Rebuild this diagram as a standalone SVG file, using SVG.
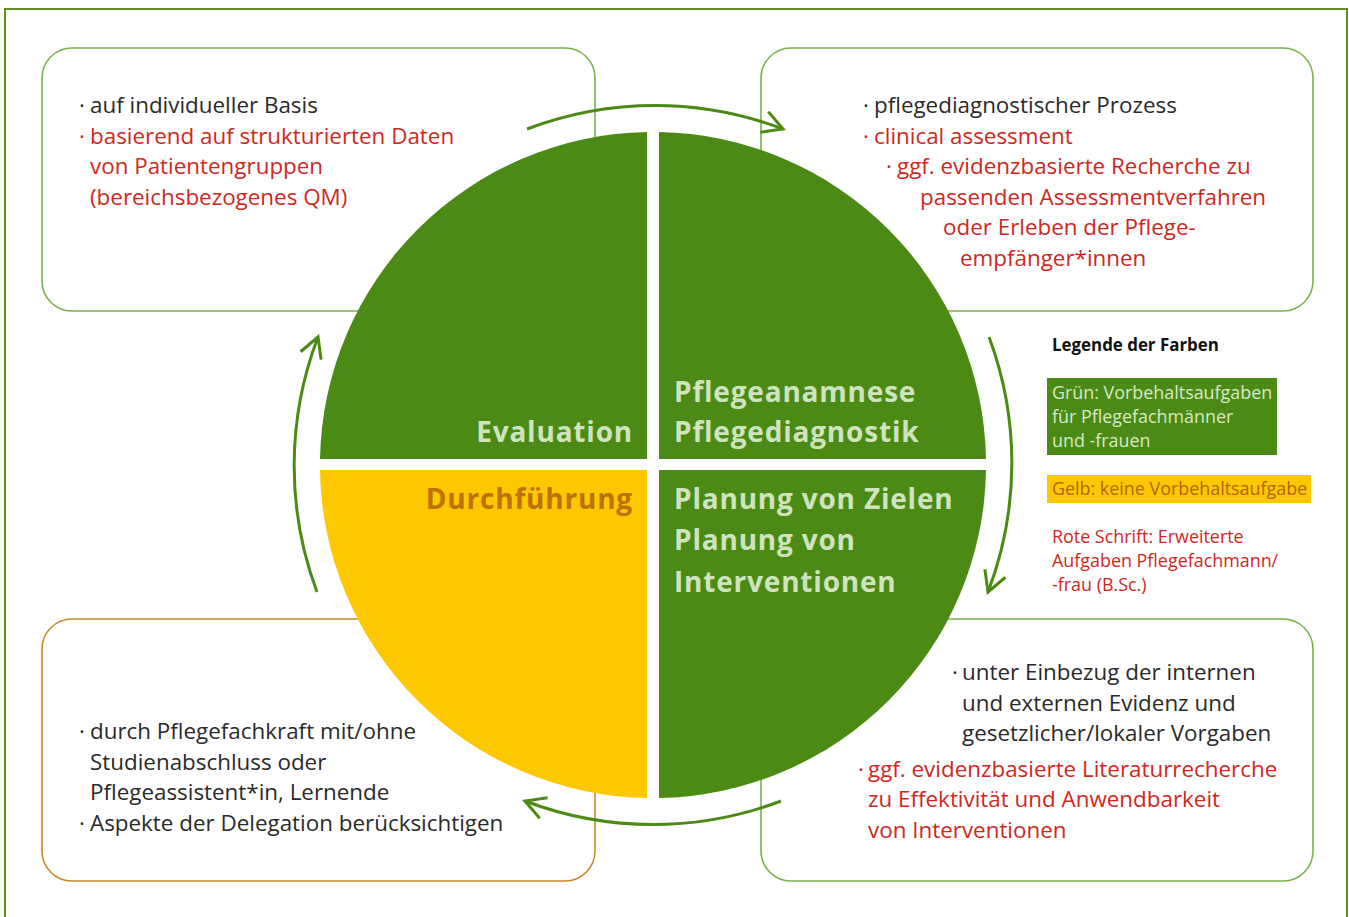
<svg xmlns="http://www.w3.org/2000/svg" width="1349" height="917" viewBox="0 0 1349 917">
<style>
.body{font-family:"Open Sans","Liberation Sans",sans-serif;font-size:22.4px;fill:#2a2a2a}
.red{fill:#d0271d}
.box{fill:none;stroke-width:1.6}
.bg{stroke:#79b24a}
.bo{stroke:#c98a2c}
.q{font-family:"Open Sans","Liberation Sans",sans-serif;font-weight:700;font-size:28px;letter-spacing:0.8px;fill:#cfe3bf}
.leg{font-family:"Open Sans","Liberation Sans",sans-serif;font-size:17.9px}
.arc{fill:none;stroke:#4b8b15;stroke-width:3;marker-end:url(#ah)}
</style>
<defs>
<marker id="ah" markerUnits="userSpaceOnUse" viewBox="-26 -16 30 32" markerWidth="30" markerHeight="32" refX="0" refY="0" orient="auto">
<path d="M-20,-11 L0,0 L-20,11" fill="none" stroke="#4b8b15" stroke-width="3"/>
</marker>
</defs>
<rect width="1349" height="917" fill="#ffffff"/>
<path d="M5,917 V9 H1347 V917" fill="none" stroke="#5f8f22" stroke-width="2"/>

<g id="box-evaluation">
<rect class="box bg" x="42" y="48" width="553" height="263" rx="30"/>
<text class="body" x="79" y="113">·</text><text class="body" x="90" y="113">auf individueller Basis</text>
<text class="body red" x="79" y="143.5">·</text><text class="body red" x="90" y="143.5">basierend auf strukturierten Daten</text>
<text class="body red" x="90" y="174">von Patientengruppen</text>
<text class="body red" x="90" y="204.5">(bereichsbezogenes QM)</text>
</g>

<g id="box-diagnostik">
<rect class="box bg" x="761" y="48" width="552" height="263" rx="30"/>
<text class="body" x="863" y="113">·</text><text class="body" x="874" y="113">pflegediagnostischer Prozess</text>
<text class="body red" x="863" y="143.5">·</text><text class="body red" x="874" y="143.5">clinical assessment</text>
<text class="body red" x="886" y="174">·</text><text class="body red" x="897" y="174">ggf. evidenzbasierte Recherche zu</text>
<text class="body red" x="920" y="204.5">passenden Assessmentverfahren</text>
<text class="body red" x="943" y="235">oder Erleben der Pflege-</text>
<text class="body red" x="960" y="265.5">empfänger*innen</text>
</g>

<g id="box-durchfuehrung">
<rect class="box bo" x="42" y="619" width="553" height="262" rx="30"/>
<text class="body" x="79" y="739">·</text><text class="body" x="90" y="739">durch Pflegefachkraft mit/ohne</text>
<text class="body" x="90" y="769.5">Studienabschluss oder</text>
<text class="body" x="90" y="800">Pflegeassistent*in, Lernende</text>
<text class="body" x="79" y="830.5">·</text><text class="body" x="90" y="830.5">Aspekte der Delegation berücksichtigen</text>
</g>

<g id="box-planung">
<rect class="box bg" x="761" y="619" width="552" height="262" rx="30"/>
<text class="body" x="952" y="680">·</text><text class="body" x="962" y="680">unter Einbezug der internen</text>
<text class="body" x="962" y="710.5">und externen Evidenz und</text>
<text class="body" x="962" y="741">gesetzlicher/lokaler Vorgaben</text>
<text class="body red" x="858" y="776.5">·</text><text class="body red" x="868" y="776.5">ggf. evidenzbasierte Literaturrecherche</text>
<text class="body red" x="868" y="807">zu Effektivität und Anwendbarkeit</text>
<text class="body red" x="868" y="837.5">von Interventionen</text>
</g>

<g id="q-evaluation">
<path d="M647,459 V132 A333,333 0 0 0 320,459 Z" fill="#4b8b15"/>
<text class="q" x="633" y="442" text-anchor="end">Evaluation</text>
</g>
<g id="q-pflegeanamnese">
<path d="M659,459 V132 A333,333 0 0 1 986,459 Z" fill="#4b8b15"/>
<text class="q" x="674" y="401.5">Pflegeanamnese</text>
<text class="q" x="674" y="442">Pflegediagnostik</text>
</g>
<g id="q-durchfuehrung">
<path d="M647,470 V798 A333,333 0 0 1 320,470 Z" fill="#fdc800"/>
<text class="q" x="633" y="509" text-anchor="end" style="fill:#be7000">Durchführung</text>
</g>
<g id="q-planung">
<path d="M659,470 V798 A333,333 0 0 0 986,470 Z" fill="#4b8b15"/>
<text class="q" x="674" y="509">Planung von Zielen</text>
<text class="q" x="674" y="550">Planung von</text>
<text class="q" x="674" y="591.5">Interventionen</text>
</g>

<g id="connectors">
<path class="arc" d="M527,129 A360,360 0 0 1 783,129"/>
<path class="arc" d="M989,337 A360,360 0 0 1 988,592"/>
<path class="arc" d="M781,801 A360,360 0 0 1 525,801"/>
<path class="arc" d="M317,592 A360,360 0 0 1 318,337"/>
</g>

<g id="legend">
<text class="leg" x="1052" y="351" style="font-weight:700;font-size:16.9px;fill:#111">Legende der Farben</text>
<rect x="1047" y="378" width="230" height="77" fill="#4b8b15"/>
<text class="leg" x="1052" y="399" style="fill:#d8e8c8">Grün: Vorbehaltsaufgaben</text>
<text class="leg" x="1052" y="423" style="fill:#d8e8c8">für Pflegefachmänner</text>
<text class="leg" x="1052" y="447" style="fill:#d8e8c8">und -frauen</text>
<rect x="1047" y="475" width="264" height="28" fill="#fdc800"/>
<text class="leg" x="1052" y="495" style="fill:#b0650a">Gelb: keine Vorbehaltsaufgabe</text>
<text class="leg" x="1052" y="543" style="fill:#d0271d">Rote Schrift: Erweiterte</text>
<text class="leg" x="1052" y="567" style="fill:#d0271d">Aufgaben Pflegefachmann/</text>
<text class="leg" x="1052" y="591" style="fill:#d0271d">-frau (B.Sc.)</text>
</g>
</svg>
